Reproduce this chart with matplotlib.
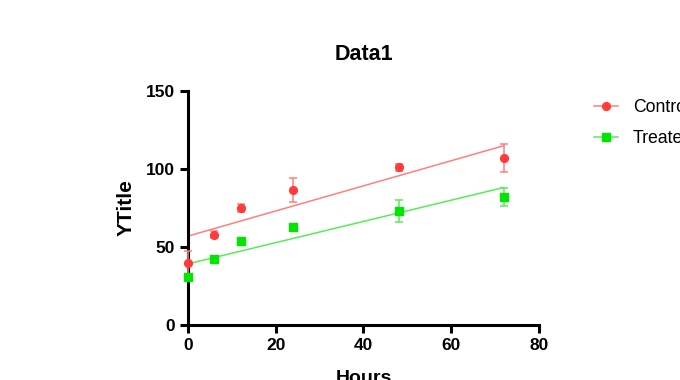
import numpy as np
import matplotlib
matplotlib.use('Agg')
import matplotlib.pyplot as plt
from matplotlib.lines import Line2D

plt.rcParams['font.family'] = ['Liberation Sans', 'DejaVu Sans']

# Data
hours = [0, 6, 12, 24, 48, 72]
control = [39.5, 58, 75, 86.5, 101, 107]
control_err = [8, 2.5, 2.5, 7.5, 2, 9]
treated = [31, 42, 54, 63, 73, 82]
treated_err = [2, 1, 1, 1, 7, 6]

# linear fit lines (intercept, slope)
control_fit = (57, 0.805)
treated_fit = (39.2, 0.68)
fit_range = [0, 72]

RED = '#FF3B3B'
RED_LINE = '#FF7F7F'
GREEN = '#00E600'
GREEN_LINE = '#55EE55'
MS = 5.6

fig = plt.figure(figsize=(6.8, 3.8), dpi=100)
ax = fig.add_axes([0.2765, 0.1447, 0.516, 0.6158])

fx = np.array(fit_range)
ax.plot(fx, control_fit[0] + control_fit[1] * fx, color=RED_LINE, lw=1.1, zorder=2)
ax.plot(fx, treated_fit[0] + treated_fit[1] * fx, color=GREEN_LINE, lw=1.1, zorder=2)

ax.errorbar(hours, control, yerr=control_err, fmt='o', color=RED, ecolor=RED_LINE,
            elinewidth=1.1, capsize=2.6, capthick=1.1, markersize=MS, zorder=3)
ax.errorbar(hours, treated, yerr=treated_err, fmt='s', color=GREEN, ecolor=GREEN_LINE,
            elinewidth=1.1, capsize=2.6, capthick=1.1, markersize=MS, zorder=3)

ax.set_xlim(0, 80)
ax.set_ylim(0, 150)
ax.set_xticks([0, 20, 40, 60, 80])
ax.set_yticks([0, 50, 100, 150])
for s in ['top', 'right']:
    ax.spines[s].set_visible(False)
for s in ['left', 'bottom']:
    ax.spines[s].set_linewidth(2.2)
ax.tick_params(width=2.2, length=6, labelsize=12.5)
for lab in ax.get_xticklabels() + ax.get_yticklabels():
    lab.set_fontweight('bold')
for c in ax.get_children():
    try:
        c.set_clip_on(False)
    except Exception:
        pass

ax.set_title('Data1', fontsize=15.5, fontweight='bold', pad=22)
ax.set_xlabel('Hours', fontsize=14, fontweight='bold', labelpad=12)
ax.set_ylabel('YTitle', fontsize=15, fontweight='bold', labelpad=7)

handles = [
    Line2D([], [], color=RED_LINE, lw=1.1, marker='o', markerfacecolor=RED,
           markeredgecolor=RED, markersize=MS),
    Line2D([], [], color=GREEN_LINE, lw=1.1, marker='s', markerfacecolor=GREEN,
           markeredgecolor=GREEN, markersize=MS),
]
fig.legend(handles, ['Control', 'Treated'], loc='upper left',
           bbox_to_anchor=(0.85, 0.78), frameon=False, fontsize=12.7,
           handlelength=1.36, handletextpad=0.85, labelspacing=0.75)

fig.savefig('out.png', dpi=100)
